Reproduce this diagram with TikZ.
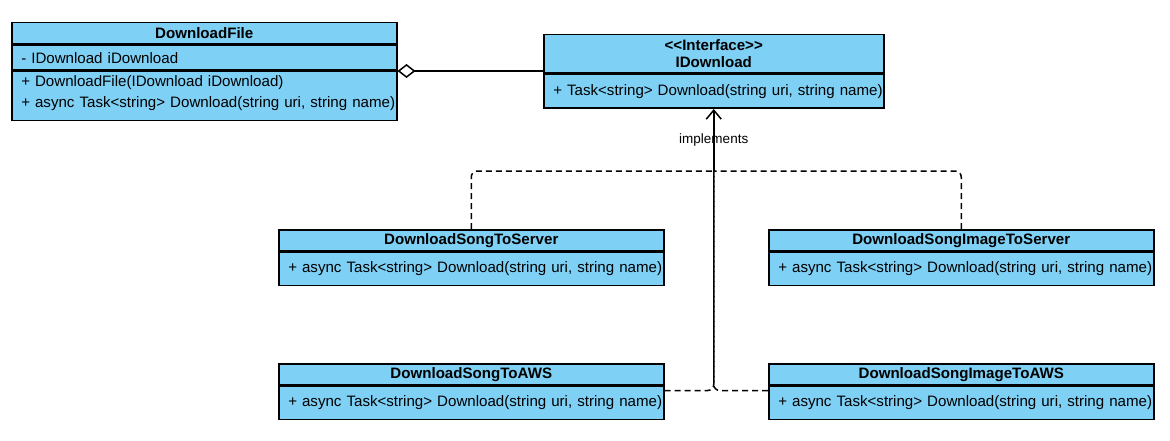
\documentclass[tikz,border=0pt]{standalone}
\usepackage{fontspec}
\setmainfont{Liberation Sans}
\usetikzlibrary{positioning,arrows.meta}
\definecolor{classblue}{RGB}{126,208,245}

\begin{document}
\begin{tikzpicture}[x=1pt,y=-1pt,
        classhead/.style={
            draw=black,
            line width=1.5pt,
            fill=classblue,
            font=\fontsize{15.1}{17}\selectfont\bfseries,
            align=center,
            inner sep=0pt,
            minimum width=#1, text width=#1,
            minimum height=21pt,
            anchor=north west
        },
        classbody/.style={
            draw=black,
            line width=1.5pt,
            fill=classblue,
            font=\fontsize{15.1}{21}\selectfont,
            align=left,
            inner xsep=9.5pt, inner ysep=0pt,
            text width=#1,
            minimum height=33pt
        },
        realize/.style={
            line width=1.5pt,
            dash pattern=on 6pt off 4pt,
            rounded corners=6pt
        }
    ]
\useasboundingbox (0,0) rectangle (1170,441);

% DownloadFile class
\node[classhead=385pt] (df-head) at (11,22) {DownloadFile};
\node[classbody=366pt, minimum height=25pt, below=0pt of df-head] (df-attr) {\mbox{- IDownload iDownload}};
\node[classbody=366pt, minimum height=49pt, below=0pt of df-attr] (df-ops)
    {\mbox{+ DownloadFile(IDownload iDownload)}\\\mbox{+ async Task<string> Download(string uri, string name)}\rule[-9pt]{0pt}{0pt}};

% the interface
\node[classhead=340pt, minimum height=38pt] (idl-head) at (543,34) {{<}{<}Interface{>}{>}\\IDownload};
\node[classbody=321pt, minimum height=34pt, below=0pt of idl-head] (idl-ops)
    {\mbox{+ Task<string> Download(string uri, string name)}};

% implementations
\node[classhead=385pt] (sts-head) at (278,229) {DownloadSongToServer};
\node[classbody=366pt, below=0pt of sts-head] (sts-ops) {\mbox{+ async Task<string> Download(string uri, string name)}};

\node[classhead=385pt] (sits-head) at (768,229) {DownloadSongImageToServer};
\node[classbody=366pt, below=0pt of sits-head] (sits-ops) {\mbox{+ async Task<string> Download(string uri, string name)}};

\node[classhead=385pt] (sta-head) at (278,363) {DownloadSongToAWS};
\node[classbody=366pt, below=0pt of sta-head] (sta-ops) {\mbox{+ async Task<string> Download(string uri, string name)}};

\node[classhead=385pt] (sita-head) at (768,363) {DownloadSongImageToAWS};
\node[classbody=366pt, below=0pt of sita-head] (sita-ops) {\mbox{+ async Task<string> Download(string uri, string name)}};

% aggregation
\draw[line width=1.5pt, -{Diamond[open,length=18pt,width=14pt]}]
  (df-attr.south east -| idl-head.west) -- (df-attr.south east);

% realization
\coordinate[below=62pt of idl-ops.south] (merge);
\draw[line width=1.5pt, -{Straight Barb[length=9pt,width=15pt]}]
  (merge) -- node[font=\fontsize{13.5}{15}\selectfont] (impl) {implements} (idl-ops.south);
\draw[realize] (sts-head.north) |- (merge);
\draw[realize] (sits-head.north) |- (merge);
\draw[realize] ([yshift=-5pt]sta-head.south east) -| (merge);
\draw[realize] ([yshift=-5pt]sita-head.south west) -| (merge);

\end{tikzpicture}
\end{document}
